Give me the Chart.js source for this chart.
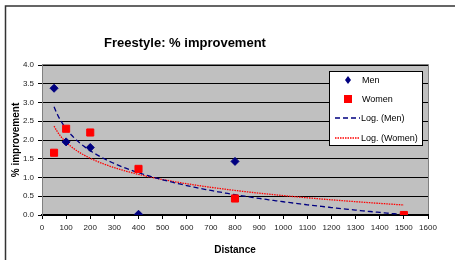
<!DOCTYPE html>
<html>
<head>
<meta charset="utf-8">
<script src="https://cdn.jsdelivr.net/npm/chart.js@4"></script>
<style>
  html, body { margin: 0; padding: 0; background: #fff; }
  #wrap { width: 455px; height: 260px; }
</style>
</head>
<body>
<div id="wrap"><canvas id="chart-1" width="455" height="260"></canvas></div>
<script>
const distances = [50, 100, 200, 400, 800, 1500];
const menImprovement = [3.38, 1.95, 1.80, 0.02, 1.43, 0.0];
const womenImprovement = [1.66, 2.30, 2.20, 1.23, 0.44, 0.0];
const chartTitle = 'Freestyle: % improvement';

// log trendline y = a*ln(x) + b, least squares like Excel does
function logFit(xs, ys) {
  const lx = xs.map(Math.log);
  const n = xs.length;
  const mx = lx.reduce((s, v) => s + v, 0) / n;
  const my = ys.reduce((s, v) => s + v, 0) / n;
  let sxy = 0, sxx = 0;
  for (let i = 0; i < n; i++) {
    sxy += (lx[i] - mx) * (ys[i] - my);
    sxx += (lx[i] - mx) * (lx[i] - mx);
  }
  const a = sxy / sxx;
  const b = my - a * mx;
  const pts = [];
  const x0 = Math.min(...xs), x1 = Math.max(...xs);
  for (let x = x0; x <= x1; x += 10) pts.push({x: x, y: a * Math.log(x) + b});
  return pts;
}

const toPoints = (xs, ys) => xs.map((x, i) => ({x: x, y: ys[i]}));

const bgPlugin = {
  id: 'bg',
  beforeDraw(chart) {
    const c = chart.ctx, a = chart.chartArea;
    c.save();
    c.fillStyle = '#fff';
    c.fillRect(0, 0, chart.width, chart.height);
    // outer frame
    c.strokeStyle = '#333';
    c.lineWidth = 1.5;
    c.beginPath();
    c.moveTo(5.5, 260);
    c.lineTo(5.5, 6);
    c.lineTo(455, 6);
    c.stroke();
    // plot area
    c.fillStyle = '#c0c0c0';
    c.fillRect(a.left, a.top - 1, a.right - a.left, a.bottom - a.top + 1);
    c.strokeStyle = '#808080';
    c.lineWidth = 1;
    c.beginPath();
    c.moveTo(a.left, a.top - 0.5);
    c.lineTo(a.right + 0.5, a.top - 0.5);
    c.lineTo(a.right + 0.5, a.bottom);
    c.stroke();
    c.restore();
  },
  afterDraw(chart) {
    const c = chart.ctx;
    c.save();
    c.fillStyle = '#000';
    c.font = 'bold 13px "Liberation Sans", Arial, sans-serif';
    c.textAlign = 'center';
    c.textBaseline = 'middle';
    c.fillText(chartTitle, 185, 43);

    // legend box
    const lx = 329, ly = 71, lw = 93, lh = 74;
    c.fillStyle = '#fff';
    c.fillRect(lx, ly, lw, lh);
    c.strokeStyle = '#000';
    c.lineWidth = 1;
    c.strokeRect(lx + 0.5, ly + 0.5, lw, lh);
    c.font = '9px "Liberation Sans", Arial, sans-serif';
    c.textAlign = 'left';
    const ds = chart.data.datasets;
    const rows = [80, 99, 118, 138];
    ds.forEach((d, i) => {
      const y = rows[i];
      c.save();
      if (i < 2) {
        c.fillStyle = d.backgroundColor;
        c.beginPath();
        if (d.pointStyle === 'rectRot') {
          c.moveTo(348, y - 4); c.lineTo(351, y); c.lineTo(348, y + 4); c.lineTo(345, y);
        } else {
          c.rect(344, y - 4, 8, 8);
        }
        c.fill();
      } else {
        c.strokeStyle = d.borderColor;
        c.lineWidth = d.borderWidth;
        c.setLineDash(d.borderDash);
        c.beginPath();
        c.moveTo(335, y);
        c.lineTo(360, y);
        c.stroke();
      }
      c.restore();
      c.fillStyle = '#000';
      c.fillText(d.label, i < 2 ? 362 : 361, y + 1);
    });
    c.restore();
  }
};

const data1 = {
  datasets: [
    {
      label: 'Men',
      data: toPoints(distances, menImprovement),
      backgroundColor: '#000080',
      borderColor: '#000080',
      pointStyle: 'rectRot',
      pointRadius: 4,
      showLine: false,
      order: 1
    },
    {
      label: 'Women',
      data: toPoints(distances, womenImprovement),
      backgroundColor: '#ff0000',
      borderColor: '#ff0000',
      pointStyle: 'rect',
      pointRadius: 5,
      showLine: false,
      order: 0
    },
    {
      label: 'Log. (Men)',
      data: logFit(distances, menImprovement),
      borderColor: '#000080',
      borderWidth: 1.3,
      borderDash: [5, 3],
      pointRadius: 0,
      showLine: true,
      order: 2
    },
    {
      label: 'Log. (Women)',
      data: logFit(distances, womenImprovement),
      borderColor: '#ff0000',
      borderWidth: 1.3,
      borderDash: [1.5, 1],
      pointRadius: 0,
      showLine: true,
      order: 3
    }
  ]
};

const tickFont = {family: '"Liberation Sans", Arial, sans-serif', size: 8};
const titleFont = {family: '"Liberation Sans", Arial, sans-serif', size: 10, weight: 'bold'};

const config1 = {
  type: 'scatter',
  data: data1,
  options: {
    responsive: false,
    animation: false,
    layout: {padding: {top: 65, right: 27, left: 0, bottom: 0}},
    plugins: {
      legend: {display: false},
      title: {display: false},
      tooltip: {enabled: false}
    },
    scales: {
      x: {
        type: 'linear',
        min: 0,
        max: 1600,
        ticks: {stepSize: 100, color: '#222', font: tickFont, padding: 4, maxRotation: 0,
          callback: v => String(v)},
        grid: {drawOnChartArea: false, drawTicks: true, tickLength: 4, color: '#000'},
        border: {color: '#000', width: 2},
        title: {display: true, text: 'Distance', color: '#000', font: titleFont, padding: {top: 2}},
        afterFit(s) { s.height = 45; }
      },
      y: {
        min: 0,
        max: 4,
        ticks: {stepSize: 0.5, color: '#222', font: tickFont, padding: 4,
          callback: v => v.toFixed(1)},
        grid: {color: '#000', lineWidth: 1, tickLength: 4},
        border: {color: '#808080', width: 1},
        title: {display: true, text: '% improvement', color: '#000', font: titleFont, padding: {top: 10}},
        afterFit(s) { s.width = 42; }
      }
    }
  },
  plugins: [bgPlugin]
};

const ctx1 = document.getElementById('chart-1');
const chart1 = new Chart(ctx1, config1);
</script>
</body>
</html>
